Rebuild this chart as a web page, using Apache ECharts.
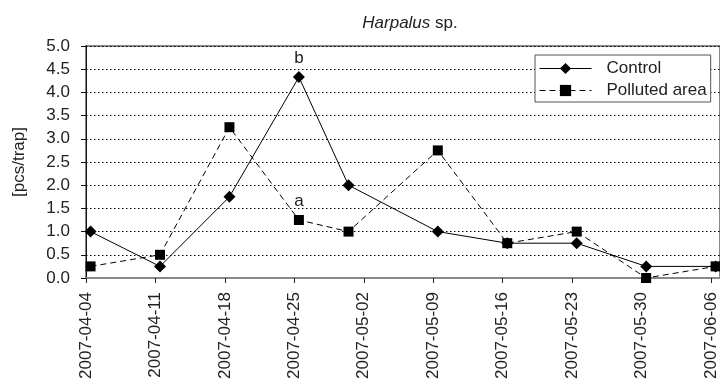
<!DOCTYPE html>
<html>
<head>
	<meta charset="utf-8">
	<title>Harpalus sp.</title>
	<script src="https://cdn.jsdelivr.net/npm/echarts@6/dist/echarts.min.js"></script>
	<style>
		html, body { margin: 0; padding: 0; background: #fff; }
		#main { width: 720px; height: 383px; }
	</style>
</head>
<body>
	<div id="main"></div>
	<script type="text/javascript">
		// sampling dates (traps emptied late morning)
		var sampleDates = ['2007-04-04', '2007-04-11', '2007-04-18', '2007-04-25', '2007-04-30',
			'2007-05-09', '2007-05-16', '2007-05-23', '2007-05-30', '2007-06-06'];
		var sampleTime = 'T11:00:00Z';
		var tickDates = ['2007-04-04', '2007-04-11', '2007-04-18', '2007-04-25', '2007-05-02',
			'2007-05-09', '2007-05-16', '2007-05-23', '2007-05-30', '2007-06-06'];
		var controlVals = [1.0, 0.25, 1.75, 4.33, 2.0, 1.0, 0.75, 0.75, 0.25, 0.25];
		var pollutedVals = [0.25, 0.5, 3.25, 1.25, 1.0, 2.75, 0.75, 1.0, 0.0, 0.25];
		var controlMarks = ['', '', '', 'b', '', '', '', '', '', ''];
		var pollutedMarks = ['', '', '', 'a', '', '', '', '', '', ''];

		var DAY = 864e5;
		var t0 = Date.parse(tickDates[0] + 'T00:00:00Z');
		function dayOf(s) { return (Date.parse(s) - t0) / DAY; }

		var tickDays = tickDates.map(function (d) { return dayOf(d + 'T00:00:00Z'); });
		var dayLabel = {};
		tickDates.forEach(function (d, i) { dayLabel[tickDays[i]] = d; });

		function pairs(vals, marks) {
			return vals.map(function (v, i) {
				return { value: [dayOf(sampleDates[i] + sampleTime), v], mark: marks[i] };
			});
		}

		var font = 'Liberation Sans, Arial, sans-serif';
		var myChart = echarts.init(document.getElementById('main'));

		myChart.setOption({
			animation: false,
			textStyle: { fontFamily: font },
			title: {
				text: '{i|Harpalus} sp.',
				left: 405,
				textAlign: 'center',
				top: 10,
				textStyle: {
					fontSize: 17,
					fontWeight: 'normal',
					color: '#222',
					rich: { i: { fontStyle: 'italic', fontSize: 17, color: '#222' } }
				}
			},
			grid: {
				left: 86,
				right: -2,
				top: 46,
				bottom: 105,
				show: true,
				borderColor: '#888',
				borderWidth: 2
			},
			legend: {
				left: 535,
				top: 55,
				orient: 'vertical',
				backgroundColor: '#fff',
				borderColor: '#555',
				borderWidth: 1,
				padding: [5, 4, 3, 4],
				itemGap: 5,
				itemWidth: 52,
				itemHeight: 14,
				lineStyle: { width: 1 },
				textStyle: { fontSize: 17, color: '#222', padding: [0, 0, 0, 10] }
			},
			xAxis: {
				type: 'value',
				min: 0,
				max: 63.9,
				axisLine: { onZero: false, lineStyle: { color: '#888', width: 2 } },
				axisTick: {
					customValues: tickDays,
					length: 5,
					lineStyle: { color: '#222', width: 1 }
				},
				axisLabel: {
					customValues: tickDays,
					rotate: 90,
					margin: 14,
					fontSize: 17,
					color: '#222',
					formatter: function (v) { return dayLabel[Math.round(v)] || ''; }
				},
				splitLine: { show: false }
			},
			yAxis: {
				type: 'value',
				min: 0,
				max: 5,
				interval: 0.5,
				name: '[pcs/trap]',
				nameLocation: 'middle',
				nameRotate: 90,
				nameGap: 58,
				nameTextStyle: { fontSize: 17, color: '#222' },
				axisLine: { show: true, lineStyle: { color: '#111', width: 1 } },
				axisTick: { show: true, length: 5, lineStyle: { color: '#111' } },
				axisLabel: {
					fontSize: 17,
					color: '#222',
					margin: 16,
					formatter: function (v) { return v.toFixed(1); }
				},
				splitLine: { lineStyle: { color: '#000', type: [1.5, 2.5], width: 1 } }
			},
			series: [
				{
					name: 'Control',
					type: 'line',
					data: pairs(controlVals, controlMarks),
					symbol: 'diamond',
					symbolSize: 12,
					itemStyle: { color: '#000' },
					lineStyle: { color: '#000', width: 1 },
					label: {
						show: true,
						position: 'top',
						distance: 4,
						fontSize: 17,
						color: '#222',
						formatter: function (p) { return p.data.mark; }
					}
				},
				{
					name: 'Polluted area',
					type: 'line',
					data: pairs(pollutedVals, pollutedMarks),
					symbol: 'rect',
					symbolSize: 10,
					itemStyle: { color: '#000' },
					lineStyle: { color: '#000', width: 1, type: [6, 4] },
					label: {
						show: true,
						position: 'top',
						distance: 5,
						fontSize: 17,
						color: '#222',
						formatter: function (p) { return p.data.mark; }
					}
				}
			]
		});

		window.addEventListener('resize', function () { myChart.resize(); });
	</script>
</body>
</html>
